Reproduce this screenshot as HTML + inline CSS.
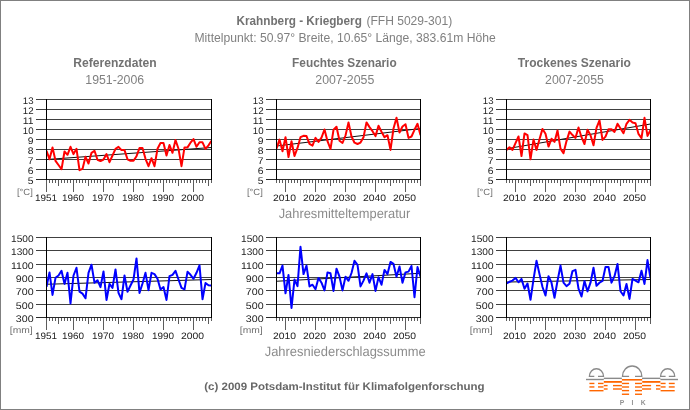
<!DOCTYPE html>
<html lang="de"><head><meta charset="utf-8"><title>Krahnberg - Kriegberg</title>
<style>
html,body{margin:0;padding:0;background:#fff}
#f{position:relative;width:688px;height:408px;border:1px solid #808080;overflow:hidden;background:#fff}
#f svg{position:absolute;left:-1px;top:-1px}
</style></head><body><div id="f"><svg width="690" height="410" viewBox="0 0 690 410"><g stroke="#404040" stroke-width="1" shape-rendering="crispEdges"><line x1="36" y1="99.5" x2="212" y2="99.5"/><line x1="36" y1="109.5" x2="212" y2="109.5"/><line x1="36" y1="119.5" x2="212" y2="119.5"/><line x1="36" y1="129.5" x2="212" y2="129.5"/><line x1="36" y1="139.5" x2="212" y2="139.5"/><line x1="36" y1="149.5" x2="212" y2="149.5"/><line x1="36" y1="159.5" x2="212" y2="159.5"/><line x1="36" y1="169.5" x2="212" y2="169.5"/><line x1="36" y1="179.5" x2="212" y2="179.5" stroke="#2a2a2a"/></g>
<g stroke="#5c5c5c" stroke-width="1" shape-rendering="crispEdges"><line x1="46.5" y1="180" x2="46.5" y2="192"/><line x1="49.5" y1="180" x2="49.5" y2="183"/><line x1="52.5" y1="180" x2="52.5" y2="183"/><line x1="55.5" y1="180" x2="55.5" y2="183"/><line x1="58.5" y1="180" x2="58.5" y2="186"/><line x1="61.5" y1="180" x2="61.5" y2="183"/><line x1="64.5" y1="180" x2="64.5" y2="183"/><line x1="67.5" y1="180" x2="67.5" y2="183"/><line x1="70.5" y1="180" x2="70.5" y2="183"/><line x1="73.5" y1="180" x2="73.5" y2="192"/><line x1="76.5" y1="180" x2="76.5" y2="183"/><line x1="79.5" y1="180" x2="79.5" y2="183"/><line x1="82.5" y1="180" x2="82.5" y2="183"/><line x1="85.5" y1="180" x2="85.5" y2="183"/><line x1="88.5" y1="180" x2="88.5" y2="186"/><line x1="91.5" y1="180" x2="91.5" y2="183"/><line x1="94.5" y1="180" x2="94.5" y2="183"/><line x1="97.5" y1="180" x2="97.5" y2="183"/><line x1="100.5" y1="180" x2="100.5" y2="183"/><line x1="103.5" y1="180" x2="103.5" y2="192"/><line x1="106.5" y1="180" x2="106.5" y2="183"/><line x1="109.5" y1="180" x2="109.5" y2="183"/><line x1="112.5" y1="180" x2="112.5" y2="183"/><line x1="115.5" y1="180" x2="115.5" y2="183"/><line x1="118.5" y1="180" x2="118.5" y2="186"/><line x1="121.5" y1="180" x2="121.5" y2="183"/><line x1="124.5" y1="180" x2="124.5" y2="183"/><line x1="127.5" y1="180" x2="127.5" y2="183"/><line x1="130.5" y1="180" x2="130.5" y2="183"/><line x1="133.5" y1="180" x2="133.5" y2="192"/><line x1="136.5" y1="180" x2="136.5" y2="183"/><line x1="139.5" y1="180" x2="139.5" y2="183"/><line x1="142.5" y1="180" x2="142.5" y2="183"/><line x1="145.5" y1="180" x2="145.5" y2="183"/><line x1="148.5" y1="180" x2="148.5" y2="186"/><line x1="151.5" y1="180" x2="151.5" y2="183"/><line x1="154.5" y1="180" x2="154.5" y2="183"/><line x1="157.5" y1="180" x2="157.5" y2="183"/><line x1="160.5" y1="180" x2="160.5" y2="183"/><line x1="163.5" y1="180" x2="163.5" y2="192"/><line x1="166.5" y1="180" x2="166.5" y2="183"/><line x1="169.5" y1="180" x2="169.5" y2="183"/><line x1="172.5" y1="180" x2="172.5" y2="183"/><line x1="175.5" y1="180" x2="175.5" y2="183"/><line x1="178.5" y1="180" x2="178.5" y2="186"/><line x1="181.5" y1="180" x2="181.5" y2="183"/><line x1="184.5" y1="180" x2="184.5" y2="183"/><line x1="187.5" y1="180" x2="187.5" y2="183"/><line x1="190.5" y1="180" x2="190.5" y2="183"/><line x1="193.5" y1="180" x2="193.5" y2="192"/><line x1="196.5" y1="180" x2="196.5" y2="183"/><line x1="199.5" y1="180" x2="199.5" y2="183"/><line x1="202.5" y1="180" x2="202.5" y2="183"/><line x1="205.5" y1="180" x2="205.5" y2="183"/><line x1="208.5" y1="180" x2="208.5" y2="186"/><line x1="211.5" y1="180" x2="211.5" y2="183"/></g>
<line x1="46.5" y1="159.6" x2="211.5" y2="147.6" stroke="#111" stroke-width="1.05"/>
<clipPath id="c46_99"><rect x="47" y="99" width="164" height="81"/></clipPath>
<polyline clip-path="url(#c46_99)" points="46.5,150.8 49.5,159.2 52.5,147.4 55.5,160.8 58.5,165.0 61.5,169.3 64.5,151.5 67.5,154.8 70.5,146.8 73.5,154.1 76.5,148.8 79.5,170.2 82.5,168.9 85.5,156.8 88.5,163.5 91.5,152.8 94.5,150.8 97.5,159.8 100.5,161.1 103.5,159.5 106.5,154.1 109.5,162.2 112.5,155.5 115.5,148.8 118.5,146.8 121.5,150.1 124.5,150.1 127.5,159.3 130.5,160.8 133.5,160.8 136.5,156.2 139.5,148.1 142.5,148.1 145.5,158.8 148.5,166.2 151.5,158.2 154.5,166.2 157.5,148.8 160.5,143.0 163.5,143.0 166.5,155.5 169.5,145.0 172.5,152.8 175.5,140.0 178.5,148.8 181.5,166.2 184.5,147.4 187.5,147.4 190.5,142.7 193.5,139.1 196.5,146.8 199.5,142.3 202.5,142.3 205.5,148.8 208.5,145.4 211.5,140.7" fill="none" stroke="#f00" stroke-width="2" stroke-linejoin="round"/>
<g stroke="#000" stroke-width="1" shape-rendering="crispEdges"><line x1="46.5" y1="99" x2="46.5" y2="180"/><line x1="211.5" y1="99" x2="211.5" y2="180"/></g>
<text x="22.80" y="103.8" textLength="10.74" lengthAdjust="spacingAndGlyphs" font-family="Liberation Sans, sans-serif" font-size="9.6" font-weight="normal" fill="#222" text-rendering="geometricPrecision">13</text>
<text x="22.80" y="113.8" textLength="10.74" lengthAdjust="spacingAndGlyphs" font-family="Liberation Sans, sans-serif" font-size="9.6" font-weight="normal" fill="#222" text-rendering="geometricPrecision">12</text>
<text x="22.80" y="123.8" textLength="10.76" lengthAdjust="spacingAndGlyphs" font-family="Liberation Sans, sans-serif" font-size="9.6" font-weight="normal" fill="#222" text-rendering="geometricPrecision">11</text>
<text x="22.80" y="133.8" textLength="10.74" lengthAdjust="spacingAndGlyphs" font-family="Liberation Sans, sans-serif" font-size="9.6" font-weight="normal" fill="#222" text-rendering="geometricPrecision">10</text>
<text x="27.80" y="143.8" textLength="5.76" lengthAdjust="spacingAndGlyphs" font-family="Liberation Sans, sans-serif" font-size="9.6" font-weight="normal" fill="#222" text-rendering="geometricPrecision">9</text>
<text x="27.80" y="153.8" textLength="5.76" lengthAdjust="spacingAndGlyphs" font-family="Liberation Sans, sans-serif" font-size="9.6" font-weight="normal" fill="#222" text-rendering="geometricPrecision">8</text>
<text x="27.80" y="163.8" textLength="5.76" lengthAdjust="spacingAndGlyphs" font-family="Liberation Sans, sans-serif" font-size="9.6" font-weight="normal" fill="#222" text-rendering="geometricPrecision">7</text>
<text x="27.80" y="173.8" textLength="5.76" lengthAdjust="spacingAndGlyphs" font-family="Liberation Sans, sans-serif" font-size="9.6" font-weight="normal" fill="#222" text-rendering="geometricPrecision">6</text>
<text x="27.80" y="183.8" textLength="5.76" lengthAdjust="spacingAndGlyphs" font-family="Liberation Sans, sans-serif" font-size="9.6" font-weight="normal" fill="#222" text-rendering="geometricPrecision">5</text>
<text x="35.00" y="200.9" textLength="22.08" lengthAdjust="spacingAndGlyphs" font-family="Liberation Sans, sans-serif" font-size="9.3" font-weight="normal" fill="#222" text-rendering="geometricPrecision">1951</text>
<text x="62.00" y="200.9" textLength="22.08" lengthAdjust="spacingAndGlyphs" font-family="Liberation Sans, sans-serif" font-size="9.3" font-weight="normal" fill="#222" text-rendering="geometricPrecision">1960</text>
<text x="92.00" y="200.9" textLength="22.08" lengthAdjust="spacingAndGlyphs" font-family="Liberation Sans, sans-serif" font-size="9.3" font-weight="normal" fill="#222" text-rendering="geometricPrecision">1970</text>
<text x="122.00" y="200.9" textLength="22.08" lengthAdjust="spacingAndGlyphs" font-family="Liberation Sans, sans-serif" font-size="9.3" font-weight="normal" fill="#222" text-rendering="geometricPrecision">1980</text>
<text x="152.00" y="200.9" textLength="22.08" lengthAdjust="spacingAndGlyphs" font-family="Liberation Sans, sans-serif" font-size="9.3" font-weight="normal" fill="#222" text-rendering="geometricPrecision">1990</text>
<text x="180.90" y="200.9" textLength="22.99" lengthAdjust="spacingAndGlyphs" font-family="Liberation Sans, sans-serif" font-size="9.3" font-weight="normal" fill="#222" text-rendering="geometricPrecision">2000</text>
<text x="16.90" y="195" textLength="15.88" lengthAdjust="spacingAndGlyphs" font-family="Liberation Sans, sans-serif" font-size="9" font-weight="normal" fill="#707070" text-rendering="geometricPrecision">[°C]</text>
<g stroke="#404040" stroke-width="1" shape-rendering="crispEdges"><line x1="266" y1="99.5" x2="421" y2="99.5"/><line x1="266" y1="109.5" x2="421" y2="109.5"/><line x1="266" y1="119.5" x2="421" y2="119.5"/><line x1="266" y1="129.5" x2="421" y2="129.5"/><line x1="266" y1="139.5" x2="421" y2="139.5"/><line x1="266" y1="149.5" x2="421" y2="149.5"/><line x1="266" y1="159.5" x2="421" y2="159.5"/><line x1="266" y1="169.5" x2="421" y2="169.5"/><line x1="266" y1="179.5" x2="421" y2="179.5" stroke="#2a2a2a"/></g>
<g stroke="#5c5c5c" stroke-width="1" shape-rendering="crispEdges"><line x1="276.5" y1="180" x2="276.5" y2="183"/><line x1="279.5" y1="180" x2="279.5" y2="183"/><line x1="282.5" y1="180" x2="282.5" y2="183"/><line x1="285.5" y1="180" x2="285.5" y2="192"/><line x1="288.5" y1="180" x2="288.5" y2="183"/><line x1="291.5" y1="180" x2="291.5" y2="183"/><line x1="294.5" y1="180" x2="294.5" y2="183"/><line x1="297.5" y1="180" x2="297.5" y2="183"/><line x1="300.5" y1="180" x2="300.5" y2="186"/><line x1="303.5" y1="180" x2="303.5" y2="183"/><line x1="306.5" y1="180" x2="306.5" y2="183"/><line x1="309.5" y1="180" x2="309.5" y2="183"/><line x1="312.5" y1="180" x2="312.5" y2="183"/><line x1="315.5" y1="180" x2="315.5" y2="192"/><line x1="318.5" y1="180" x2="318.5" y2="183"/><line x1="321.5" y1="180" x2="321.5" y2="183"/><line x1="324.5" y1="180" x2="324.5" y2="183"/><line x1="327.5" y1="180" x2="327.5" y2="183"/><line x1="330.5" y1="180" x2="330.5" y2="186"/><line x1="333.5" y1="180" x2="333.5" y2="183"/><line x1="336.5" y1="180" x2="336.5" y2="183"/><line x1="339.5" y1="180" x2="339.5" y2="183"/><line x1="342.5" y1="180" x2="342.5" y2="183"/><line x1="345.5" y1="180" x2="345.5" y2="192"/><line x1="348.5" y1="180" x2="348.5" y2="183"/><line x1="351.5" y1="180" x2="351.5" y2="183"/><line x1="354.5" y1="180" x2="354.5" y2="183"/><line x1="357.5" y1="180" x2="357.5" y2="183"/><line x1="360.5" y1="180" x2="360.5" y2="186"/><line x1="363.5" y1="180" x2="363.5" y2="183"/><line x1="366.5" y1="180" x2="366.5" y2="183"/><line x1="369.5" y1="180" x2="369.5" y2="183"/><line x1="372.5" y1="180" x2="372.5" y2="183"/><line x1="375.5" y1="180" x2="375.5" y2="192"/><line x1="378.5" y1="180" x2="378.5" y2="183"/><line x1="381.5" y1="180" x2="381.5" y2="183"/><line x1="384.5" y1="180" x2="384.5" y2="183"/><line x1="387.5" y1="180" x2="387.5" y2="183"/><line x1="390.5" y1="180" x2="390.5" y2="186"/><line x1="393.5" y1="180" x2="393.5" y2="183"/><line x1="396.5" y1="180" x2="396.5" y2="183"/><line x1="399.5" y1="180" x2="399.5" y2="183"/><line x1="402.5" y1="180" x2="402.5" y2="183"/><line x1="405.5" y1="180" x2="405.5" y2="192"/><line x1="408.5" y1="180" x2="408.5" y2="183"/><line x1="411.5" y1="180" x2="411.5" y2="183"/><line x1="414.5" y1="180" x2="414.5" y2="183"/><line x1="417.5" y1="180" x2="417.5" y2="183"/><line x1="420.5" y1="180" x2="420.5" y2="186"/></g>
<line x1="276.5" y1="146" x2="420.5" y2="128.5" stroke="#111" stroke-width="1.05"/>
<clipPath id="c276_99"><rect x="277" y="99" width="143" height="81"/></clipPath>
<polyline clip-path="url(#c276_99)" points="276.5,148.6 279.5,139.6 282.5,151.3 285.5,137.2 288.5,157.0 291.5,141.2 294.5,156.0 297.5,147.9 300.5,137.2 303.5,135.8 306.5,136.1 309.5,143.9 312.5,145.6 315.5,137.9 318.5,141.9 321.5,137.6 324.5,129.5 327.5,141.2 330.5,149.0 333.5,129.8 336.5,126.8 339.5,140.7 342.5,143.0 345.5,135.5 348.5,122.4 351.5,136.5 354.5,142.7 357.5,144.0 360.5,142.6 363.5,137.2 366.5,122.4 369.5,127.1 372.5,131.2 375.5,136.1 378.5,125.8 381.5,131.8 384.5,137.2 387.5,135.2 390.5,149.9 393.5,128.5 396.5,117.7 399.5,132.5 402.5,126.5 405.5,124.2 408.5,137.9 411.5,136.5 414.5,129.8 417.5,123.8 420.5,135.2" fill="none" stroke="#f00" stroke-width="2" stroke-linejoin="round"/>
<g stroke="#000" stroke-width="1" shape-rendering="crispEdges"><line x1="276.5" y1="99" x2="276.5" y2="180"/><line x1="420.5" y1="99" x2="420.5" y2="180"/></g>
<text x="252.80" y="103.8" textLength="10.74" lengthAdjust="spacingAndGlyphs" font-family="Liberation Sans, sans-serif" font-size="9.6" font-weight="normal" fill="#222" text-rendering="geometricPrecision">13</text>
<text x="252.80" y="113.8" textLength="10.74" lengthAdjust="spacingAndGlyphs" font-family="Liberation Sans, sans-serif" font-size="9.6" font-weight="normal" fill="#222" text-rendering="geometricPrecision">12</text>
<text x="252.80" y="123.8" textLength="10.76" lengthAdjust="spacingAndGlyphs" font-family="Liberation Sans, sans-serif" font-size="9.6" font-weight="normal" fill="#222" text-rendering="geometricPrecision">11</text>
<text x="252.80" y="133.8" textLength="10.74" lengthAdjust="spacingAndGlyphs" font-family="Liberation Sans, sans-serif" font-size="9.6" font-weight="normal" fill="#222" text-rendering="geometricPrecision">10</text>
<text x="257.80" y="143.8" textLength="5.76" lengthAdjust="spacingAndGlyphs" font-family="Liberation Sans, sans-serif" font-size="9.6" font-weight="normal" fill="#222" text-rendering="geometricPrecision">9</text>
<text x="257.80" y="153.8" textLength="5.76" lengthAdjust="spacingAndGlyphs" font-family="Liberation Sans, sans-serif" font-size="9.6" font-weight="normal" fill="#222" text-rendering="geometricPrecision">8</text>
<text x="257.80" y="163.8" textLength="5.76" lengthAdjust="spacingAndGlyphs" font-family="Liberation Sans, sans-serif" font-size="9.6" font-weight="normal" fill="#222" text-rendering="geometricPrecision">7</text>
<text x="257.80" y="173.8" textLength="5.76" lengthAdjust="spacingAndGlyphs" font-family="Liberation Sans, sans-serif" font-size="9.6" font-weight="normal" fill="#222" text-rendering="geometricPrecision">6</text>
<text x="257.80" y="183.8" textLength="5.76" lengthAdjust="spacingAndGlyphs" font-family="Liberation Sans, sans-serif" font-size="9.6" font-weight="normal" fill="#222" text-rendering="geometricPrecision">5</text>
<text x="272.90" y="200.9" textLength="22.99" lengthAdjust="spacingAndGlyphs" font-family="Liberation Sans, sans-serif" font-size="9.3" font-weight="normal" fill="#222" text-rendering="geometricPrecision">2010</text>
<text x="302.90" y="200.9" textLength="22.99" lengthAdjust="spacingAndGlyphs" font-family="Liberation Sans, sans-serif" font-size="9.3" font-weight="normal" fill="#222" text-rendering="geometricPrecision">2020</text>
<text x="332.90" y="200.9" textLength="22.99" lengthAdjust="spacingAndGlyphs" font-family="Liberation Sans, sans-serif" font-size="9.3" font-weight="normal" fill="#222" text-rendering="geometricPrecision">2030</text>
<text x="362.90" y="200.9" textLength="22.99" lengthAdjust="spacingAndGlyphs" font-family="Liberation Sans, sans-serif" font-size="9.3" font-weight="normal" fill="#222" text-rendering="geometricPrecision">2040</text>
<text x="392.90" y="200.9" textLength="22.99" lengthAdjust="spacingAndGlyphs" font-family="Liberation Sans, sans-serif" font-size="9.3" font-weight="normal" fill="#222" text-rendering="geometricPrecision">2050</text>
<text x="246.90" y="195" textLength="15.88" lengthAdjust="spacingAndGlyphs" font-family="Liberation Sans, sans-serif" font-size="9" font-weight="normal" fill="#707070" text-rendering="geometricPrecision">[°C]</text>
<g stroke="#404040" stroke-width="1" shape-rendering="crispEdges"><line x1="496" y1="99.5" x2="651" y2="99.5"/><line x1="496" y1="109.5" x2="651" y2="109.5"/><line x1="496" y1="119.5" x2="651" y2="119.5"/><line x1="496" y1="129.5" x2="651" y2="129.5"/><line x1="496" y1="139.5" x2="651" y2="139.5"/><line x1="496" y1="149.5" x2="651" y2="149.5"/><line x1="496" y1="159.5" x2="651" y2="159.5"/><line x1="496" y1="169.5" x2="651" y2="169.5"/><line x1="496" y1="179.5" x2="651" y2="179.5" stroke="#2a2a2a"/></g>
<g stroke="#5c5c5c" stroke-width="1" shape-rendering="crispEdges"><line x1="506.5" y1="180" x2="506.5" y2="183"/><line x1="509.5" y1="180" x2="509.5" y2="183"/><line x1="512.5" y1="180" x2="512.5" y2="183"/><line x1="515.5" y1="180" x2="515.5" y2="192"/><line x1="518.5" y1="180" x2="518.5" y2="183"/><line x1="521.5" y1="180" x2="521.5" y2="183"/><line x1="524.5" y1="180" x2="524.5" y2="183"/><line x1="527.5" y1="180" x2="527.5" y2="183"/><line x1="530.5" y1="180" x2="530.5" y2="186"/><line x1="533.5" y1="180" x2="533.5" y2="183"/><line x1="536.5" y1="180" x2="536.5" y2="183"/><line x1="539.5" y1="180" x2="539.5" y2="183"/><line x1="542.5" y1="180" x2="542.5" y2="183"/><line x1="545.5" y1="180" x2="545.5" y2="192"/><line x1="548.5" y1="180" x2="548.5" y2="183"/><line x1="551.5" y1="180" x2="551.5" y2="183"/><line x1="554.5" y1="180" x2="554.5" y2="183"/><line x1="557.5" y1="180" x2="557.5" y2="183"/><line x1="560.5" y1="180" x2="560.5" y2="186"/><line x1="563.5" y1="180" x2="563.5" y2="183"/><line x1="566.5" y1="180" x2="566.5" y2="183"/><line x1="569.5" y1="180" x2="569.5" y2="183"/><line x1="572.5" y1="180" x2="572.5" y2="183"/><line x1="575.5" y1="180" x2="575.5" y2="192"/><line x1="578.5" y1="180" x2="578.5" y2="183"/><line x1="581.5" y1="180" x2="581.5" y2="183"/><line x1="584.5" y1="180" x2="584.5" y2="183"/><line x1="587.5" y1="180" x2="587.5" y2="183"/><line x1="590.5" y1="180" x2="590.5" y2="186"/><line x1="593.5" y1="180" x2="593.5" y2="183"/><line x1="596.5" y1="180" x2="596.5" y2="183"/><line x1="599.5" y1="180" x2="599.5" y2="183"/><line x1="602.5" y1="180" x2="602.5" y2="183"/><line x1="605.5" y1="180" x2="605.5" y2="192"/><line x1="608.5" y1="180" x2="608.5" y2="183"/><line x1="611.5" y1="180" x2="611.5" y2="183"/><line x1="614.5" y1="180" x2="614.5" y2="183"/><line x1="617.5" y1="180" x2="617.5" y2="183"/><line x1="620.5" y1="180" x2="620.5" y2="186"/><line x1="623.5" y1="180" x2="623.5" y2="183"/><line x1="626.5" y1="180" x2="626.5" y2="183"/><line x1="629.5" y1="180" x2="629.5" y2="183"/><line x1="632.5" y1="180" x2="632.5" y2="183"/><line x1="635.5" y1="180" x2="635.5" y2="192"/><line x1="638.5" y1="180" x2="638.5" y2="183"/><line x1="641.5" y1="180" x2="641.5" y2="183"/><line x1="644.5" y1="180" x2="644.5" y2="183"/><line x1="647.5" y1="180" x2="647.5" y2="183"/><line x1="650.5" y1="180" x2="650.5" y2="186"/></g>
<line x1="506.5" y1="148.8" x2="650.5" y2="124" stroke="#111" stroke-width="1.05"/>
<clipPath id="c506_99"><rect x="507" y="99" width="143" height="81"/></clipPath>
<polyline clip-path="url(#c506_99)" points="506.5,149.9 509.5,147.2 512.5,149.9 515.5,143.2 518.5,136.5 521.5,156.0 524.5,133.4 527.5,135.2 530.5,159.3 533.5,139.6 536.5,149.9 539.5,139.2 542.5,128.9 545.5,133.8 548.5,146.6 551.5,138.8 554.5,141.9 557.5,130.5 560.5,148.6 563.5,153.3 566.5,141.1 569.5,131.6 572.5,135.1 575.5,137.9 578.5,127.5 581.5,137.2 584.5,144.0 587.5,129.8 590.5,135.2 593.5,145.3 596.5,127.9 599.5,120.5 602.5,139.9 605.5,136.6 608.5,129.2 611.5,129.2 614.5,131.9 617.5,123.8 620.5,128.5 623.5,133.2 626.5,123.8 629.5,119.8 632.5,122.5 635.5,123.2 638.5,133.9 641.5,138.2 644.5,117.8 647.5,135.9 650.5,129.9" fill="none" stroke="#f00" stroke-width="2" stroke-linejoin="round"/>
<g stroke="#000" stroke-width="1" shape-rendering="crispEdges"><line x1="506.5" y1="99" x2="506.5" y2="180"/><line x1="650.5" y1="99" x2="650.5" y2="180"/></g>
<text x="482.80" y="103.8" textLength="10.74" lengthAdjust="spacingAndGlyphs" font-family="Liberation Sans, sans-serif" font-size="9.6" font-weight="normal" fill="#222" text-rendering="geometricPrecision">13</text>
<text x="482.80" y="113.8" textLength="10.74" lengthAdjust="spacingAndGlyphs" font-family="Liberation Sans, sans-serif" font-size="9.6" font-weight="normal" fill="#222" text-rendering="geometricPrecision">12</text>
<text x="482.80" y="123.8" textLength="10.76" lengthAdjust="spacingAndGlyphs" font-family="Liberation Sans, sans-serif" font-size="9.6" font-weight="normal" fill="#222" text-rendering="geometricPrecision">11</text>
<text x="482.80" y="133.8" textLength="10.74" lengthAdjust="spacingAndGlyphs" font-family="Liberation Sans, sans-serif" font-size="9.6" font-weight="normal" fill="#222" text-rendering="geometricPrecision">10</text>
<text x="487.80" y="143.8" textLength="5.76" lengthAdjust="spacingAndGlyphs" font-family="Liberation Sans, sans-serif" font-size="9.6" font-weight="normal" fill="#222" text-rendering="geometricPrecision">9</text>
<text x="487.80" y="153.8" textLength="5.76" lengthAdjust="spacingAndGlyphs" font-family="Liberation Sans, sans-serif" font-size="9.6" font-weight="normal" fill="#222" text-rendering="geometricPrecision">8</text>
<text x="487.80" y="163.8" textLength="5.76" lengthAdjust="spacingAndGlyphs" font-family="Liberation Sans, sans-serif" font-size="9.6" font-weight="normal" fill="#222" text-rendering="geometricPrecision">7</text>
<text x="487.80" y="173.8" textLength="5.76" lengthAdjust="spacingAndGlyphs" font-family="Liberation Sans, sans-serif" font-size="9.6" font-weight="normal" fill="#222" text-rendering="geometricPrecision">6</text>
<text x="487.80" y="183.8" textLength="5.76" lengthAdjust="spacingAndGlyphs" font-family="Liberation Sans, sans-serif" font-size="9.6" font-weight="normal" fill="#222" text-rendering="geometricPrecision">5</text>
<text x="502.90" y="200.9" textLength="22.99" lengthAdjust="spacingAndGlyphs" font-family="Liberation Sans, sans-serif" font-size="9.3" font-weight="normal" fill="#222" text-rendering="geometricPrecision">2010</text>
<text x="532.90" y="200.9" textLength="22.99" lengthAdjust="spacingAndGlyphs" font-family="Liberation Sans, sans-serif" font-size="9.3" font-weight="normal" fill="#222" text-rendering="geometricPrecision">2020</text>
<text x="562.90" y="200.9" textLength="22.99" lengthAdjust="spacingAndGlyphs" font-family="Liberation Sans, sans-serif" font-size="9.3" font-weight="normal" fill="#222" text-rendering="geometricPrecision">2030</text>
<text x="592.90" y="200.9" textLength="22.99" lengthAdjust="spacingAndGlyphs" font-family="Liberation Sans, sans-serif" font-size="9.3" font-weight="normal" fill="#222" text-rendering="geometricPrecision">2040</text>
<text x="622.90" y="200.9" textLength="22.99" lengthAdjust="spacingAndGlyphs" font-family="Liberation Sans, sans-serif" font-size="9.3" font-weight="normal" fill="#222" text-rendering="geometricPrecision">2050</text>
<text x="476.90" y="195" textLength="15.88" lengthAdjust="spacingAndGlyphs" font-family="Liberation Sans, sans-serif" font-size="9" font-weight="normal" fill="#707070" text-rendering="geometricPrecision">[°C]</text>
<g stroke="#404040" stroke-width="1" shape-rendering="crispEdges"><line x1="36" y1="237.5" x2="212" y2="237.5"/><line x1="36" y1="250.5" x2="212" y2="250.5"/><line x1="36" y1="264.5" x2="212" y2="264.5"/><line x1="36" y1="277.5" x2="212" y2="277.5"/><line x1="36" y1="290.5" x2="212" y2="290.5"/><line x1="36" y1="304.5" x2="212" y2="304.5"/><line x1="36" y1="317.5" x2="212" y2="317.5" stroke="#2a2a2a"/></g>
<g stroke="#5c5c5c" stroke-width="1" shape-rendering="crispEdges"><line x1="46.5" y1="318" x2="46.5" y2="330"/><line x1="49.5" y1="318" x2="49.5" y2="321"/><line x1="52.5" y1="318" x2="52.5" y2="321"/><line x1="55.5" y1="318" x2="55.5" y2="321"/><line x1="58.5" y1="318" x2="58.5" y2="324"/><line x1="61.5" y1="318" x2="61.5" y2="321"/><line x1="64.5" y1="318" x2="64.5" y2="321"/><line x1="67.5" y1="318" x2="67.5" y2="321"/><line x1="70.5" y1="318" x2="70.5" y2="321"/><line x1="73.5" y1="318" x2="73.5" y2="330"/><line x1="76.5" y1="318" x2="76.5" y2="321"/><line x1="79.5" y1="318" x2="79.5" y2="321"/><line x1="82.5" y1="318" x2="82.5" y2="321"/><line x1="85.5" y1="318" x2="85.5" y2="321"/><line x1="88.5" y1="318" x2="88.5" y2="324"/><line x1="91.5" y1="318" x2="91.5" y2="321"/><line x1="94.5" y1="318" x2="94.5" y2="321"/><line x1="97.5" y1="318" x2="97.5" y2="321"/><line x1="100.5" y1="318" x2="100.5" y2="321"/><line x1="103.5" y1="318" x2="103.5" y2="330"/><line x1="106.5" y1="318" x2="106.5" y2="321"/><line x1="109.5" y1="318" x2="109.5" y2="321"/><line x1="112.5" y1="318" x2="112.5" y2="321"/><line x1="115.5" y1="318" x2="115.5" y2="321"/><line x1="118.5" y1="318" x2="118.5" y2="324"/><line x1="121.5" y1="318" x2="121.5" y2="321"/><line x1="124.5" y1="318" x2="124.5" y2="321"/><line x1="127.5" y1="318" x2="127.5" y2="321"/><line x1="130.5" y1="318" x2="130.5" y2="321"/><line x1="133.5" y1="318" x2="133.5" y2="330"/><line x1="136.5" y1="318" x2="136.5" y2="321"/><line x1="139.5" y1="318" x2="139.5" y2="321"/><line x1="142.5" y1="318" x2="142.5" y2="321"/><line x1="145.5" y1="318" x2="145.5" y2="321"/><line x1="148.5" y1="318" x2="148.5" y2="324"/><line x1="151.5" y1="318" x2="151.5" y2="321"/><line x1="154.5" y1="318" x2="154.5" y2="321"/><line x1="157.5" y1="318" x2="157.5" y2="321"/><line x1="160.5" y1="318" x2="160.5" y2="321"/><line x1="163.5" y1="318" x2="163.5" y2="330"/><line x1="166.5" y1="318" x2="166.5" y2="321"/><line x1="169.5" y1="318" x2="169.5" y2="321"/><line x1="172.5" y1="318" x2="172.5" y2="321"/><line x1="175.5" y1="318" x2="175.5" y2="321"/><line x1="178.5" y1="318" x2="178.5" y2="324"/><line x1="181.5" y1="318" x2="181.5" y2="321"/><line x1="184.5" y1="318" x2="184.5" y2="321"/><line x1="187.5" y1="318" x2="187.5" y2="321"/><line x1="190.5" y1="318" x2="190.5" y2="321"/><line x1="193.5" y1="318" x2="193.5" y2="330"/><line x1="196.5" y1="318" x2="196.5" y2="321"/><line x1="199.5" y1="318" x2="199.5" y2="321"/><line x1="202.5" y1="318" x2="202.5" y2="321"/><line x1="205.5" y1="318" x2="205.5" y2="321"/><line x1="208.5" y1="318" x2="208.5" y2="324"/><line x1="211.5" y1="318" x2="211.5" y2="321"/></g>
<line x1="46.5" y1="284.2" x2="211.5" y2="279.5" stroke="#111" stroke-width="1.05"/>
<clipPath id="c46_237"><rect x="47" y="237" width="164" height="81"/></clipPath>
<polyline clip-path="url(#c46_237)" points="46.5,286.9 49.5,272.4 52.5,294.9 55.5,277.8 58.5,275.5 61.5,270.8 64.5,283.9 67.5,272.8 70.5,303.4 73.5,275.5 76.5,267.8 79.5,291.6 82.5,293.6 85.5,298.3 88.5,272.8 91.5,264.7 94.5,282.8 97.5,280.2 100.5,287.1 103.5,271.4 106.5,300.0 109.5,283.8 112.5,287.9 115.5,269.4 118.5,292.9 121.5,299.2 124.5,275.5 127.5,291.8 130.5,285.5 133.5,279.5 136.5,258.4 139.5,292.9 142.5,283.5 145.5,272.8 148.5,290.2 151.5,272.8 154.5,274.1 157.5,278.8 160.5,289.6 163.5,287.1 166.5,300.0 169.5,276.1 172.5,274.8 175.5,270.8 178.5,279.5 181.5,287.9 184.5,289.3 187.5,271.8 190.5,274.8 193.5,278.8 196.5,272.8 199.5,265.4 202.5,299.2 205.5,283.1 208.5,285.3 211.5,285.5" fill="none" stroke="#00f" stroke-width="2" stroke-linejoin="round"/>
<g stroke="#000" stroke-width="1" shape-rendering="crispEdges"><line x1="46.5" y1="237" x2="46.5" y2="318"/><line x1="211.5" y1="237" x2="211.5" y2="318"/></g>
<text x="11.00" y="241.6" textLength="22.55" lengthAdjust="spacingAndGlyphs" font-family="Liberation Sans, sans-serif" font-size="9.6" font-weight="normal" fill="#222" text-rendering="geometricPrecision">1500</text>
<text x="11.00" y="254.6" textLength="22.55" lengthAdjust="spacingAndGlyphs" font-family="Liberation Sans, sans-serif" font-size="9.6" font-weight="normal" fill="#222" text-rendering="geometricPrecision">1300</text>
<text x="11.00" y="268.6" textLength="22.57" lengthAdjust="spacingAndGlyphs" font-family="Liberation Sans, sans-serif" font-size="9.6" font-weight="normal" fill="#222" text-rendering="geometricPrecision">1100</text>
<text x="15.80" y="281.6" textLength="17.77" lengthAdjust="spacingAndGlyphs" font-family="Liberation Sans, sans-serif" font-size="9.6" font-weight="normal" fill="#222" text-rendering="geometricPrecision">900</text>
<text x="15.80" y="294.6" textLength="17.77" lengthAdjust="spacingAndGlyphs" font-family="Liberation Sans, sans-serif" font-size="9.6" font-weight="normal" fill="#222" text-rendering="geometricPrecision">700</text>
<text x="15.80" y="308.6" textLength="17.77" lengthAdjust="spacingAndGlyphs" font-family="Liberation Sans, sans-serif" font-size="9.6" font-weight="normal" fill="#222" text-rendering="geometricPrecision">500</text>
<text x="15.80" y="321.6" textLength="17.77" lengthAdjust="spacingAndGlyphs" font-family="Liberation Sans, sans-serif" font-size="9.6" font-weight="normal" fill="#222" text-rendering="geometricPrecision">300</text>
<text x="35.00" y="338.9" textLength="22.08" lengthAdjust="spacingAndGlyphs" font-family="Liberation Sans, sans-serif" font-size="9.3" font-weight="normal" fill="#222" text-rendering="geometricPrecision">1951</text>
<text x="62.00" y="338.9" textLength="22.08" lengthAdjust="spacingAndGlyphs" font-family="Liberation Sans, sans-serif" font-size="9.3" font-weight="normal" fill="#222" text-rendering="geometricPrecision">1960</text>
<text x="92.00" y="338.9" textLength="22.08" lengthAdjust="spacingAndGlyphs" font-family="Liberation Sans, sans-serif" font-size="9.3" font-weight="normal" fill="#222" text-rendering="geometricPrecision">1970</text>
<text x="122.00" y="338.9" textLength="22.08" lengthAdjust="spacingAndGlyphs" font-family="Liberation Sans, sans-serif" font-size="9.3" font-weight="normal" fill="#222" text-rendering="geometricPrecision">1980</text>
<text x="152.00" y="338.9" textLength="22.08" lengthAdjust="spacingAndGlyphs" font-family="Liberation Sans, sans-serif" font-size="9.3" font-weight="normal" fill="#222" text-rendering="geometricPrecision">1990</text>
<text x="180.90" y="338.9" textLength="22.99" lengthAdjust="spacingAndGlyphs" font-family="Liberation Sans, sans-serif" font-size="9.3" font-weight="normal" fill="#222" text-rendering="geometricPrecision">2000</text>
<text x="9.80" y="333" textLength="22.87" lengthAdjust="spacingAndGlyphs" font-family="Liberation Sans, sans-serif" font-size="9" font-weight="normal" fill="#707070" text-rendering="geometricPrecision">[mm]</text>
<g stroke="#404040" stroke-width="1" shape-rendering="crispEdges"><line x1="266" y1="237.5" x2="421" y2="237.5"/><line x1="266" y1="250.5" x2="421" y2="250.5"/><line x1="266" y1="264.5" x2="421" y2="264.5"/><line x1="266" y1="277.5" x2="421" y2="277.5"/><line x1="266" y1="290.5" x2="421" y2="290.5"/><line x1="266" y1="304.5" x2="421" y2="304.5"/><line x1="266" y1="317.5" x2="421" y2="317.5" stroke="#2a2a2a"/></g>
<g stroke="#5c5c5c" stroke-width="1" shape-rendering="crispEdges"><line x1="276.5" y1="318" x2="276.5" y2="321"/><line x1="279.5" y1="318" x2="279.5" y2="321"/><line x1="282.5" y1="318" x2="282.5" y2="321"/><line x1="285.5" y1="318" x2="285.5" y2="330"/><line x1="288.5" y1="318" x2="288.5" y2="321"/><line x1="291.5" y1="318" x2="291.5" y2="321"/><line x1="294.5" y1="318" x2="294.5" y2="321"/><line x1="297.5" y1="318" x2="297.5" y2="321"/><line x1="300.5" y1="318" x2="300.5" y2="324"/><line x1="303.5" y1="318" x2="303.5" y2="321"/><line x1="306.5" y1="318" x2="306.5" y2="321"/><line x1="309.5" y1="318" x2="309.5" y2="321"/><line x1="312.5" y1="318" x2="312.5" y2="321"/><line x1="315.5" y1="318" x2="315.5" y2="330"/><line x1="318.5" y1="318" x2="318.5" y2="321"/><line x1="321.5" y1="318" x2="321.5" y2="321"/><line x1="324.5" y1="318" x2="324.5" y2="321"/><line x1="327.5" y1="318" x2="327.5" y2="321"/><line x1="330.5" y1="318" x2="330.5" y2="324"/><line x1="333.5" y1="318" x2="333.5" y2="321"/><line x1="336.5" y1="318" x2="336.5" y2="321"/><line x1="339.5" y1="318" x2="339.5" y2="321"/><line x1="342.5" y1="318" x2="342.5" y2="321"/><line x1="345.5" y1="318" x2="345.5" y2="330"/><line x1="348.5" y1="318" x2="348.5" y2="321"/><line x1="351.5" y1="318" x2="351.5" y2="321"/><line x1="354.5" y1="318" x2="354.5" y2="321"/><line x1="357.5" y1="318" x2="357.5" y2="321"/><line x1="360.5" y1="318" x2="360.5" y2="324"/><line x1="363.5" y1="318" x2="363.5" y2="321"/><line x1="366.5" y1="318" x2="366.5" y2="321"/><line x1="369.5" y1="318" x2="369.5" y2="321"/><line x1="372.5" y1="318" x2="372.5" y2="321"/><line x1="375.5" y1="318" x2="375.5" y2="330"/><line x1="378.5" y1="318" x2="378.5" y2="321"/><line x1="381.5" y1="318" x2="381.5" y2="321"/><line x1="384.5" y1="318" x2="384.5" y2="321"/><line x1="387.5" y1="318" x2="387.5" y2="321"/><line x1="390.5" y1="318" x2="390.5" y2="324"/><line x1="393.5" y1="318" x2="393.5" y2="321"/><line x1="396.5" y1="318" x2="396.5" y2="321"/><line x1="399.5" y1="318" x2="399.5" y2="321"/><line x1="402.5" y1="318" x2="402.5" y2="321"/><line x1="405.5" y1="318" x2="405.5" y2="330"/><line x1="408.5" y1="318" x2="408.5" y2="321"/><line x1="411.5" y1="318" x2="411.5" y2="321"/><line x1="414.5" y1="318" x2="414.5" y2="321"/><line x1="417.5" y1="318" x2="417.5" y2="321"/><line x1="420.5" y1="318" x2="420.5" y2="324"/></g>
<line x1="276.5" y1="281.3" x2="420.5" y2="273.3" stroke="#111" stroke-width="1.05"/>
<clipPath id="c276_237"><rect x="277" y="237" width="143" height="81"/></clipPath>
<polyline clip-path="url(#c276_237)" points="276.5,273.3 279.5,273.3 282.5,265.6 285.5,293.3 288.5,275.0 291.5,308.0 294.5,279.6 297.5,286.1 300.5,246.8 303.5,274.1 306.5,265.6 309.5,286.4 312.5,284.7 315.5,289.2 318.5,277.9 321.5,282.7 324.5,290.4 327.5,272.4 330.5,273.3 333.5,290.9 336.5,268.7 339.5,276.7 342.5,290.4 345.5,276.7 348.5,280.8 351.5,273.0 354.5,260.8 357.5,264.8 360.5,286.4 363.5,280.6 366.5,273.3 369.5,282.7 372.5,274.1 375.5,290.9 378.5,277.2 381.5,284.7 384.5,269.9 387.5,274.1 390.5,261.9 393.5,263.9 396.5,276.7 399.5,266.5 402.5,282.7 405.5,272.4 408.5,271.6 411.5,266.0 414.5,297.2 417.5,267.0 420.5,276.7" fill="none" stroke="#00f" stroke-width="2" stroke-linejoin="round"/>
<g stroke="#000" stroke-width="1" shape-rendering="crispEdges"><line x1="276.5" y1="237" x2="276.5" y2="318"/><line x1="420.5" y1="237" x2="420.5" y2="318"/></g>
<text x="241.00" y="241.6" textLength="22.55" lengthAdjust="spacingAndGlyphs" font-family="Liberation Sans, sans-serif" font-size="9.6" font-weight="normal" fill="#222" text-rendering="geometricPrecision">1500</text>
<text x="241.00" y="254.6" textLength="22.55" lengthAdjust="spacingAndGlyphs" font-family="Liberation Sans, sans-serif" font-size="9.6" font-weight="normal" fill="#222" text-rendering="geometricPrecision">1300</text>
<text x="241.00" y="268.6" textLength="22.57" lengthAdjust="spacingAndGlyphs" font-family="Liberation Sans, sans-serif" font-size="9.6" font-weight="normal" fill="#222" text-rendering="geometricPrecision">1100</text>
<text x="245.80" y="281.6" textLength="17.77" lengthAdjust="spacingAndGlyphs" font-family="Liberation Sans, sans-serif" font-size="9.6" font-weight="normal" fill="#222" text-rendering="geometricPrecision">900</text>
<text x="245.80" y="294.6" textLength="17.77" lengthAdjust="spacingAndGlyphs" font-family="Liberation Sans, sans-serif" font-size="9.6" font-weight="normal" fill="#222" text-rendering="geometricPrecision">700</text>
<text x="245.80" y="308.6" textLength="17.77" lengthAdjust="spacingAndGlyphs" font-family="Liberation Sans, sans-serif" font-size="9.6" font-weight="normal" fill="#222" text-rendering="geometricPrecision">500</text>
<text x="245.80" y="321.6" textLength="17.77" lengthAdjust="spacingAndGlyphs" font-family="Liberation Sans, sans-serif" font-size="9.6" font-weight="normal" fill="#222" text-rendering="geometricPrecision">300</text>
<text x="272.90" y="338.9" textLength="22.99" lengthAdjust="spacingAndGlyphs" font-family="Liberation Sans, sans-serif" font-size="9.3" font-weight="normal" fill="#222" text-rendering="geometricPrecision">2010</text>
<text x="302.90" y="338.9" textLength="22.99" lengthAdjust="spacingAndGlyphs" font-family="Liberation Sans, sans-serif" font-size="9.3" font-weight="normal" fill="#222" text-rendering="geometricPrecision">2020</text>
<text x="332.90" y="338.9" textLength="22.99" lengthAdjust="spacingAndGlyphs" font-family="Liberation Sans, sans-serif" font-size="9.3" font-weight="normal" fill="#222" text-rendering="geometricPrecision">2030</text>
<text x="362.90" y="338.9" textLength="22.99" lengthAdjust="spacingAndGlyphs" font-family="Liberation Sans, sans-serif" font-size="9.3" font-weight="normal" fill="#222" text-rendering="geometricPrecision">2040</text>
<text x="392.90" y="338.9" textLength="22.99" lengthAdjust="spacingAndGlyphs" font-family="Liberation Sans, sans-serif" font-size="9.3" font-weight="normal" fill="#222" text-rendering="geometricPrecision">2050</text>
<text x="239.80" y="333" textLength="22.87" lengthAdjust="spacingAndGlyphs" font-family="Liberation Sans, sans-serif" font-size="9" font-weight="normal" fill="#707070" text-rendering="geometricPrecision">[mm]</text>
<g stroke="#404040" stroke-width="1" shape-rendering="crispEdges"><line x1="496" y1="237.5" x2="651" y2="237.5"/><line x1="496" y1="250.5" x2="651" y2="250.5"/><line x1="496" y1="264.5" x2="651" y2="264.5"/><line x1="496" y1="277.5" x2="651" y2="277.5"/><line x1="496" y1="290.5" x2="651" y2="290.5"/><line x1="496" y1="304.5" x2="651" y2="304.5"/><line x1="496" y1="317.5" x2="651" y2="317.5" stroke="#2a2a2a"/></g>
<g stroke="#5c5c5c" stroke-width="1" shape-rendering="crispEdges"><line x1="506.5" y1="318" x2="506.5" y2="321"/><line x1="509.5" y1="318" x2="509.5" y2="321"/><line x1="512.5" y1="318" x2="512.5" y2="321"/><line x1="515.5" y1="318" x2="515.5" y2="330"/><line x1="518.5" y1="318" x2="518.5" y2="321"/><line x1="521.5" y1="318" x2="521.5" y2="321"/><line x1="524.5" y1="318" x2="524.5" y2="321"/><line x1="527.5" y1="318" x2="527.5" y2="321"/><line x1="530.5" y1="318" x2="530.5" y2="324"/><line x1="533.5" y1="318" x2="533.5" y2="321"/><line x1="536.5" y1="318" x2="536.5" y2="321"/><line x1="539.5" y1="318" x2="539.5" y2="321"/><line x1="542.5" y1="318" x2="542.5" y2="321"/><line x1="545.5" y1="318" x2="545.5" y2="330"/><line x1="548.5" y1="318" x2="548.5" y2="321"/><line x1="551.5" y1="318" x2="551.5" y2="321"/><line x1="554.5" y1="318" x2="554.5" y2="321"/><line x1="557.5" y1="318" x2="557.5" y2="321"/><line x1="560.5" y1="318" x2="560.5" y2="324"/><line x1="563.5" y1="318" x2="563.5" y2="321"/><line x1="566.5" y1="318" x2="566.5" y2="321"/><line x1="569.5" y1="318" x2="569.5" y2="321"/><line x1="572.5" y1="318" x2="572.5" y2="321"/><line x1="575.5" y1="318" x2="575.5" y2="330"/><line x1="578.5" y1="318" x2="578.5" y2="321"/><line x1="581.5" y1="318" x2="581.5" y2="321"/><line x1="584.5" y1="318" x2="584.5" y2="321"/><line x1="587.5" y1="318" x2="587.5" y2="321"/><line x1="590.5" y1="318" x2="590.5" y2="324"/><line x1="593.5" y1="318" x2="593.5" y2="321"/><line x1="596.5" y1="318" x2="596.5" y2="321"/><line x1="599.5" y1="318" x2="599.5" y2="321"/><line x1="602.5" y1="318" x2="602.5" y2="321"/><line x1="605.5" y1="318" x2="605.5" y2="330"/><line x1="608.5" y1="318" x2="608.5" y2="321"/><line x1="611.5" y1="318" x2="611.5" y2="321"/><line x1="614.5" y1="318" x2="614.5" y2="321"/><line x1="617.5" y1="318" x2="617.5" y2="321"/><line x1="620.5" y1="318" x2="620.5" y2="324"/><line x1="623.5" y1="318" x2="623.5" y2="321"/><line x1="626.5" y1="318" x2="626.5" y2="321"/><line x1="629.5" y1="318" x2="629.5" y2="321"/><line x1="632.5" y1="318" x2="632.5" y2="321"/><line x1="635.5" y1="318" x2="635.5" y2="330"/><line x1="638.5" y1="318" x2="638.5" y2="321"/><line x1="641.5" y1="318" x2="641.5" y2="321"/><line x1="644.5" y1="318" x2="644.5" y2="321"/><line x1="647.5" y1="318" x2="647.5" y2="321"/><line x1="650.5" y1="318" x2="650.5" y2="324"/></g>
<line x1="506.5" y1="282" x2="650.5" y2="279.6" stroke="#111" stroke-width="1.05"/>
<clipPath id="c506_237"><rect x="507" y="237" width="143" height="81"/></clipPath>
<polyline clip-path="url(#c506_237)" points="506.5,283.5 509.5,281.8 512.5,280.6 515.5,277.9 518.5,282.3 521.5,278.9 524.5,288.7 527.5,283.5 530.5,299.8 533.5,279.3 536.5,260.8 539.5,274.1 542.5,287.0 545.5,295.5 548.5,276.2 551.5,282.7 554.5,297.7 557.5,281.0 560.5,265.6 563.5,282.7 566.5,286.1 569.5,283.8 572.5,271.1 575.5,269.9 578.5,288.7 581.5,296.5 584.5,281.0 587.5,291.4 590.5,282.7 593.5,267.7 596.5,285.8 599.5,282.7 602.5,281.0 605.5,267.0 608.5,267.0 611.5,282.7 614.5,276.2 617.5,263.9 620.5,291.2 623.5,295.5 626.5,284.0 629.5,298.9 632.5,278.9 635.5,280.6 638.5,282.3 641.5,270.7 644.5,284.0 647.5,260.1 650.5,278.4" fill="none" stroke="#00f" stroke-width="2" stroke-linejoin="round"/>
<g stroke="#000" stroke-width="1" shape-rendering="crispEdges"><line x1="506.5" y1="237" x2="506.5" y2="318"/><line x1="650.5" y1="237" x2="650.5" y2="318"/></g>
<text x="471.00" y="241.6" textLength="22.55" lengthAdjust="spacingAndGlyphs" font-family="Liberation Sans, sans-serif" font-size="9.6" font-weight="normal" fill="#222" text-rendering="geometricPrecision">1500</text>
<text x="471.00" y="254.6" textLength="22.55" lengthAdjust="spacingAndGlyphs" font-family="Liberation Sans, sans-serif" font-size="9.6" font-weight="normal" fill="#222" text-rendering="geometricPrecision">1300</text>
<text x="471.00" y="268.6" textLength="22.57" lengthAdjust="spacingAndGlyphs" font-family="Liberation Sans, sans-serif" font-size="9.6" font-weight="normal" fill="#222" text-rendering="geometricPrecision">1100</text>
<text x="475.80" y="281.6" textLength="17.77" lengthAdjust="spacingAndGlyphs" font-family="Liberation Sans, sans-serif" font-size="9.6" font-weight="normal" fill="#222" text-rendering="geometricPrecision">900</text>
<text x="475.80" y="294.6" textLength="17.77" lengthAdjust="spacingAndGlyphs" font-family="Liberation Sans, sans-serif" font-size="9.6" font-weight="normal" fill="#222" text-rendering="geometricPrecision">700</text>
<text x="475.80" y="308.6" textLength="17.77" lengthAdjust="spacingAndGlyphs" font-family="Liberation Sans, sans-serif" font-size="9.6" font-weight="normal" fill="#222" text-rendering="geometricPrecision">500</text>
<text x="475.80" y="321.6" textLength="17.77" lengthAdjust="spacingAndGlyphs" font-family="Liberation Sans, sans-serif" font-size="9.6" font-weight="normal" fill="#222" text-rendering="geometricPrecision">300</text>
<text x="502.90" y="338.9" textLength="22.99" lengthAdjust="spacingAndGlyphs" font-family="Liberation Sans, sans-serif" font-size="9.3" font-weight="normal" fill="#222" text-rendering="geometricPrecision">2010</text>
<text x="532.90" y="338.9" textLength="22.99" lengthAdjust="spacingAndGlyphs" font-family="Liberation Sans, sans-serif" font-size="9.3" font-weight="normal" fill="#222" text-rendering="geometricPrecision">2020</text>
<text x="562.90" y="338.9" textLength="22.99" lengthAdjust="spacingAndGlyphs" font-family="Liberation Sans, sans-serif" font-size="9.3" font-weight="normal" fill="#222" text-rendering="geometricPrecision">2030</text>
<text x="592.90" y="338.9" textLength="22.99" lengthAdjust="spacingAndGlyphs" font-family="Liberation Sans, sans-serif" font-size="9.3" font-weight="normal" fill="#222" text-rendering="geometricPrecision">2040</text>
<text x="622.90" y="338.9" textLength="22.99" lengthAdjust="spacingAndGlyphs" font-family="Liberation Sans, sans-serif" font-size="9.3" font-weight="normal" fill="#222" text-rendering="geometricPrecision">2050</text>
<text x="469.80" y="333" textLength="22.87" lengthAdjust="spacingAndGlyphs" font-family="Liberation Sans, sans-serif" font-size="9" font-weight="normal" fill="#707070" text-rendering="geometricPrecision">[mm]</text>
<text x="236.50" y="25" textLength="125.32" lengthAdjust="spacingAndGlyphs" font-family="Liberation Sans, sans-serif" font-size="12" font-weight="bold" fill="#727272">Krahnberg - Kriegberg</text>
<text x="366.40" y="25" textLength="85.80" lengthAdjust="spacingAndGlyphs" font-family="Liberation Sans, sans-serif" font-size="12" font-weight="normal" fill="#808080">(FFH 5029-301)</text>
<text x="194.50" y="41.6" textLength="301.17" lengthAdjust="spacingAndGlyphs" font-family="Liberation Sans, sans-serif" font-size="12" font-weight="normal" fill="#808080">Mittelpunkt: 50.97° Breite, 10.65° Länge, 383.61m Höhe</text>
<text x="73.30" y="67" textLength="83.33" lengthAdjust="spacingAndGlyphs" font-family="Liberation Sans, sans-serif" font-size="12" font-weight="bold" fill="#727272">Referenzdaten</text>
<text x="85.30" y="83.6" textLength="58.77" lengthAdjust="spacingAndGlyphs" font-family="Liberation Sans, sans-serif" font-size="12" font-weight="normal" fill="#808080">1951-2006</text>
<text x="292.10" y="67" textLength="104.53" lengthAdjust="spacingAndGlyphs" font-family="Liberation Sans, sans-serif" font-size="12" font-weight="bold" fill="#727272">Feuchtes Szenario</text>
<text x="315.30" y="83.6" textLength="58.96" lengthAdjust="spacingAndGlyphs" font-family="Liberation Sans, sans-serif" font-size="12" font-weight="normal" fill="#808080">2007-2055</text>
<text x="517.80" y="67" textLength="113.13" lengthAdjust="spacingAndGlyphs" font-family="Liberation Sans, sans-serif" font-size="12" font-weight="bold" fill="#727272">Trockenes Szenario</text>
<text x="545.10" y="83.6" textLength="58.77" lengthAdjust="spacingAndGlyphs" font-family="Liberation Sans, sans-serif" font-size="12" font-weight="normal" fill="#808080">2007-2055</text>
<text x="278.70" y="218.4" textLength="131.55" lengthAdjust="spacingAndGlyphs" font-family="Liberation Sans, sans-serif" font-size="13.6" font-weight="normal" fill="#8c8c8c" text-rendering="geometricPrecision">Jahresmitteltemperatur</text>
<text x="264.70" y="356.4" textLength="161.03" lengthAdjust="spacingAndGlyphs" font-family="Liberation Sans, sans-serif" font-size="13.6" font-weight="normal" fill="#8c8c8c" text-rendering="geometricPrecision">Jahresniederschlagssumme</text>
<text x="204.30" y="389.8" textLength="280.23" lengthAdjust="spacingAndGlyphs" font-family="Liberation Sans, sans-serif" font-size="10.8" font-weight="bold" fill="#676767" text-rendering="geometricPrecision">(c) 2009 Potsdam-Institut für Klimafolgenforschung</text>
<path d="M594.3,376.3 H589.4 A7,7.49 0 0 1 603.5,376.3 H598" fill="none" stroke="#8a8a8a" stroke-width="1.3"/><path d="M629.1,376.3 H622.5 A9.6,10.27 0 0 1 641.8,376.3 H635" fill="none" stroke="#8a8a8a" stroke-width="1.3"/><path d="M665.6,376.3 H660.6 A7,7.49 0 0 1 674.7,376.3 H668.8" fill="none" stroke="#8a8a8a" stroke-width="1.3"/><line x1="586" y1="379.5" x2="603.8" y2="379.5" stroke="#8a8a8a" stroke-width="1.4"/><line x1="603.8" y1="378.35" x2="621.9" y2="378.35" stroke="#8a8a8a" stroke-width="1.4"/><line x1="642" y1="378.35" x2="660.4" y2="378.35" stroke="#8a8a8a" stroke-width="1.4"/><line x1="660.4" y1="379.5" x2="678" y2="379.5" stroke="#8a8a8a" stroke-width="1.4"/><line x1="621.9" y1="379.8" x2="642.2" y2="379.8" stroke="#ff6600" stroke-width="1.6"/><line x1="621.9" y1="383.45" x2="629.1" y2="383.45" stroke="#ff6600" stroke-width="1.4"/><line x1="635" y1="383.45" x2="642" y2="383.45" stroke="#ff6600" stroke-width="1.4"/><line x1="621.9" y1="387" x2="629.1" y2="387" stroke="#ff6600" stroke-width="1.4"/><line x1="635" y1="387" x2="642" y2="387" stroke="#ff6600" stroke-width="1.4"/><line x1="621.9" y1="390.6" x2="629.1" y2="390.6" stroke="#ff6600" stroke-width="1.4"/><line x1="635" y1="390.6" x2="642" y2="390.6" stroke="#ff6600" stroke-width="1.4"/><line x1="621.9" y1="394.25" x2="629.1" y2="394.25" stroke="#ff6600" stroke-width="1.4"/><line x1="635" y1="394.25" x2="642" y2="394.25" stroke="#ff6600" stroke-width="1.4"/><line x1="603.8" y1="381.9" x2="621.9" y2="381.9" stroke="#ff6600" stroke-width="1.8"/><line x1="642.2" y1="381.9" x2="660.4" y2="381.9" stroke="#ff6600" stroke-width="1.8"/><line x1="603.8" y1="385.6" x2="607.6" y2="385.6" stroke="#ff6600" stroke-width="1.4"/><line x1="613" y1="385.6" x2="621.9" y2="385.6" stroke="#ff6600" stroke-width="1.4"/><line x1="642" y1="385.6" x2="651.1" y2="385.6" stroke="#ff6600" stroke-width="1.4"/><line x1="656" y1="385.6" x2="660.4" y2="385.6" stroke="#ff6600" stroke-width="1.4"/><line x1="603.8" y1="389.0" x2="607.6" y2="389.0" stroke="#ff6600" stroke-width="1.4"/><line x1="613" y1="389.0" x2="621.9" y2="389.0" stroke="#ff6600" stroke-width="1.4"/><line x1="642" y1="389.0" x2="651.1" y2="389.0" stroke="#ff6600" stroke-width="1.4"/><line x1="656" y1="389.0" x2="660.4" y2="389.0" stroke="#ff6600" stroke-width="1.4"/><line x1="589.4" y1="383.45" x2="594.4" y2="383.45" stroke="#ff6600" stroke-width="1.4"/><line x1="598" y1="383.45" x2="603.5" y2="383.45" stroke="#ff6600" stroke-width="1.4"/><line x1="660.6" y1="383.45" x2="665.6" y2="383.45" stroke="#ff6600" stroke-width="1.4"/><line x1="668.8" y1="383.45" x2="674.7" y2="383.45" stroke="#ff6600" stroke-width="1.4"/><line x1="589.4" y1="386.95" x2="594.4" y2="386.95" stroke="#ff6600" stroke-width="1.4"/><line x1="598" y1="386.95" x2="603.5" y2="386.95" stroke="#ff6600" stroke-width="1.4"/><line x1="660.6" y1="386.95" x2="665.6" y2="386.95" stroke="#ff6600" stroke-width="1.4"/><line x1="668.8" y1="386.95" x2="674.7" y2="386.95" stroke="#ff6600" stroke-width="1.4"/><line x1="589.4" y1="390.7" x2="603.5" y2="390.7" stroke="#ff6600" stroke-width="1.4"/><line x1="660.6" y1="390.7" x2="674.7" y2="390.7" stroke="#ff6600" stroke-width="1.4"/>
<text x="622" y="404.8" text-anchor="middle" font-family="Liberation Sans, sans-serif" font-size="6.8" font-weight="bold" fill="#939393">P</text>
<text x="632.4" y="404.8" text-anchor="middle" font-family="Liberation Sans, sans-serif" font-size="6.8" font-weight="bold" fill="#939393">I</text>
<text x="643.1" y="404.8" text-anchor="middle" font-family="Liberation Sans, sans-serif" font-size="6.8" font-weight="bold" fill="#939393">K</text></svg></div></body></html>
